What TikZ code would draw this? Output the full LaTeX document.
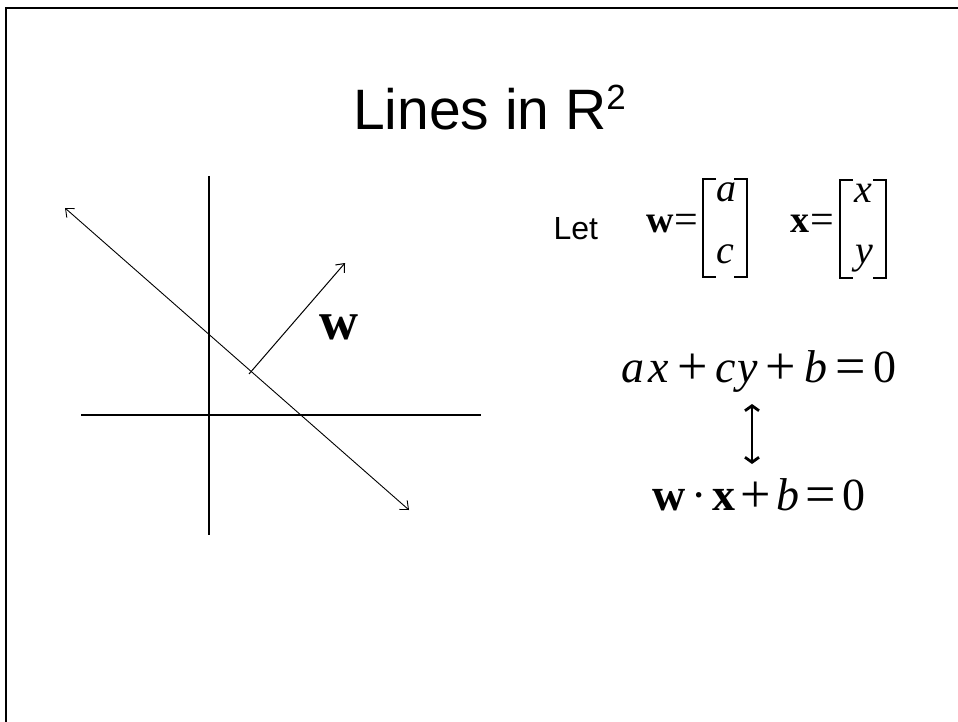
\documentclass[tikz,border=0pt]{standalone}
\usepackage{fontspec}
\setmainfont{Liberation Serif}
\newfontfamily\arialf{Liberation Sans}
\usetikzlibrary{arrows.meta}
\newcommand{\fsz}[1]{\fontsize{#1}{#1}\selectfont}
\newcommand{\opp}[1]{\raisebox{-2pt}{\fsz{54}#1}}
\newcommand{\kk}[1]{\kern#1pt\relax}
\begin{document}
\begin{tikzpicture}[x=1pt,y=-1pt,
  frameline/.style={line width=2.2pt,black},
  axisline/.style={line width=1.3pt},
  thinarrow/.style={line width=0.9pt,{Straight Barb[length=7pt,width=12pt]}-{Straight Barb[length=7pt,width=12pt]}},
  vecarrow/.style={line width=1pt,-{Straight Barb[length=7pt,width=12pt]}},
  equivarrow/.style={line width=2.8pt,{Straight Barb[length=5pt,width=14pt]}-{Straight Barb[length=5pt,width=14pt]}},
  bracket/.style={line width=1.8pt},
  txt/.style={inner sep=0pt,outer sep=0pt}]
\useasboundingbox (0,0) rectangle (958,722);
% slide frame
\coordinate (fb) at (6,723);
\coordinate (fc) at (6,8);
\coordinate (fr) at (959,8);
\draw[frameline] (fb) -- (fc) -- (fr);
% title
\node[txt,anchor=base west] (title) at (353,130) {\arialf\fsz{57}Lines in R\raisebox{20pt}{\fsz{35}2}};
% axes
\coordinate (yt) at (209,176);
\coordinate (yb) at (209,535);
\coordinate (xl) at (81,415);
\coordinate (xr) at (481,415);
\draw[axisline] (yt) -- (yb);
\draw[axisline] (xl) -- (xr);
% line
\coordinate (la) at (65,208);
\coordinate (lb) at (409,510);
\draw[thinarrow] (la) -- (lb);
% vector w
\coordinate (wt) at (249,374);
\coordinate (wh) at (345,263);
\draw[vecarrow] (wt) -- (wh);
\node[txt,anchor=base] (wlab) at (339,339) {\fsz{54}\textbf{w}};
% Let
\node[txt,anchor=base east] (let) at (598,240) {\arialf\fsz{32}Let};
% w = [a; c]
\node[txt,anchor=base west] (wvec) at (646,233) {\fsz{38}\textbf{w}\kk{1}\raisebox{-1pt}{\fsz{42}=}};
\node[txt,anchor=base] (ea) at (726,202) {\fsz{40}\textit{a}};
\node[txt,anchor=base] (ec) at (725,263) {\fsz{40}\textit{c}};
\draw[bracket] (716,179) -- (703,179) -- (703,277) -- (716,277);
\draw[bracket] (734,179) -- (747,179) -- (747,277) -- (734,277);
% x = [x; y]
\node[txt,anchor=base west] (xvec) at (790,233) {\fsz{38}\textbf{x}\kk{1}\raisebox{-1pt}{\fsz{42}=}};
\node[txt,anchor=base] (ex) at (863,203) {\fsz{40}\textit{x}};
\node[txt,anchor=base] (ey) at (864,263) {\fsz{40}\textit{y}};
\draw[bracket] (853,180) -- (840,180) -- (840,278) -- (853,278);
\draw[bracket] (873,180) -- (886,180) -- (886,278) -- (873,278);
% equations
\node[txt,anchor=base west] (eq1) at (621,382) {\fsz{46}\textit{a}\kk{5}\textit{x}\kk{8}\opp{+}\kk{8}\textit{c}\kk{1}\textit{y}\kk{8}\opp{+}\kk{8}\textit{b}\kk{8}\opp{=}\kk{8}0};
\node[txt,anchor=base west] (eq2) at (652,510) {\fsz{46}\textbf{w}\kk{6}·\kk{6}\textbf{x}\kk{5}\opp{+}\kk{5}\textit{b}\kk{6}\opp{=}\kk{7}0};
\coordinate (at) at (752,404);
\coordinate (ab) at (752,464);
\draw[equivarrow] (at) -- (ab);
\end{tikzpicture}
\end{document}
